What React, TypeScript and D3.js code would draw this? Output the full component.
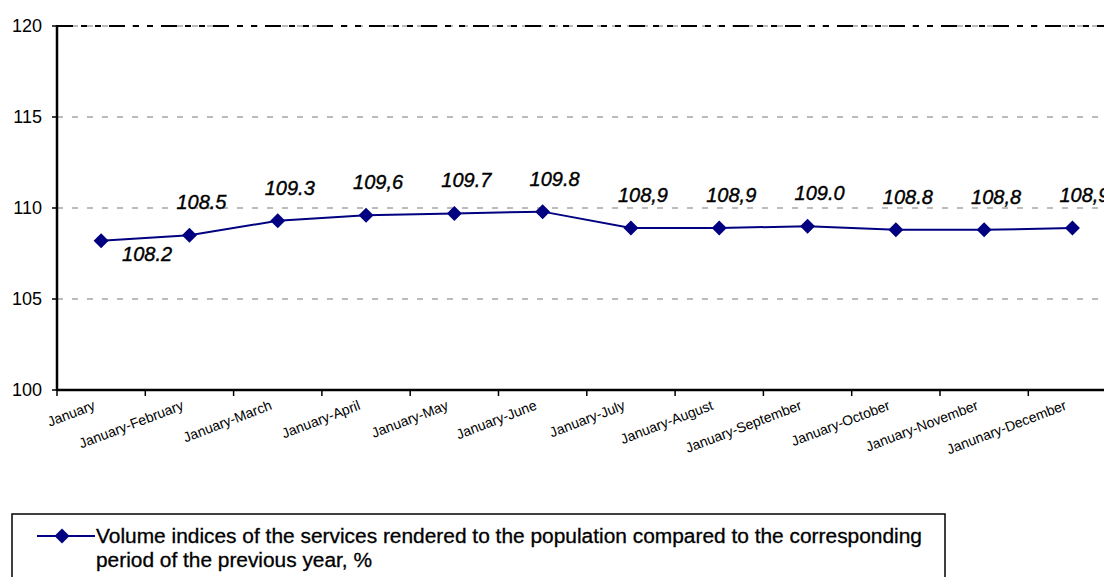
import React from 'react';
import * as d3 from 'd3';

const categories = [
  'January', 'January-February', 'January-March', 'January-April', 'January-May', 'January-June',
  'January-July', 'January-August', 'January-September', 'January-October', 'January-November', 'Janunary-December',
];
const values = [108.2, 108.5, 109.3, 109.6, 109.7, 109.8, 108.9, 108.9, 109.0, 108.8, 108.8, 108.9];
const valueLabels = ['108.2', '108.5', '109.3', '109,6', '109.7', '109.8', '108,9', '108,9', '109.0', '108.8', '108,8', '108,9'];
const yTicks = [100, 105, 110, 115, 120];
const legendLines = [
  'Volume indices of the services rendered to the population compared to the corresponding',
  'period of the previous year, %',
];

const W = 1104;
const H = 577;
const left = 57;
const top = 26;
const bottom = 390;
const step = 88.3;

const App: React.FC = () => {
  const x = d3.scaleBand<string>().domain(categories).range([left, left + step * categories.length]);
  const y = d3.scaleLinear().domain([100, 120]).range([bottom, top]);
  const cx = (c: string) => (x(c) ?? 0) + x.bandwidth() / 2;

  const line = d3.line<number>()
    .x((_, i) => cx(categories[i]))
    .y(d => y(d));

  // rotated square marker
  const diamond = 'M0,-7.5L7.5,0L0,7.5L-7.5,0Z';

  return (
    <svg width={W} height={H} style={{ position: 'fixed', left: 0, top: 0, fontFamily: 'Arial, "Liberation Sans", sans-serif' }}>
      <rect width={W} height={H} fill="#fff" />
      {/* gridlines */}
      {yTicks.filter(t => t > 100).map(t => (
        <line key={t} x1={left} x2={W} y1={y(t)} y2={y(t)} stroke="#bbb" strokeWidth={2} strokeDasharray="6 9" />
      ))}
      {/* top border dash-dot */}
      <line x1={left} x2={W} y1={top} y2={top} stroke="#000" strokeWidth={2} strokeDasharray="16 8 6 8 6 8" />
      {/* y axis */}
      <line x1={left} x2={left} y1={top - 1} y2={bottom + 1} stroke="#000" strokeWidth={2.5} />
      {yTicks.map(t => (
        <g key={t}>
          <line x1={left - 5} x2={left} y1={y(t)} y2={y(t)} stroke="#000" strokeWidth={1.5} />
          <text x={left - 15} y={y(t)} dy="0.35em" textAnchor="end" fontSize={18}>{t}</text>
        </g>
      ))}
      {/* x axis */}
      <line x1={left} x2={W} y1={bottom} y2={bottom} stroke="#000" strokeWidth={2.5} />
      {categories.map(c => (
        <line key={c} x1={x(c) ?? 0} x2={x(c) ?? 0} y1={bottom} y2={bottom + 6} stroke="#000" strokeWidth={1.5} />
      ))}
      {categories.map(c => (
        <text key={c} transform={`translate(${cx(c) - 5},${bottom + 19}) rotate(-21)`} textAnchor="end" fontSize={14}>{c}</text>
      ))}
      {/* series */}
      <path d={line(values) ?? ''} fill="none" stroke="#000080" strokeWidth={2} />
      {values.map((v, i) => (
        <path key={i} d={diamond} transform={`translate(${cx(categories[i])},${y(v)})`} fill="#000080" />
      ))}
      {values.map((v, i) => {
        const below = i === 0;
        return (
          <text key={i} x={cx(categories[i]) + (below ? 46 : 12)} y={y(v) + (below ? 20 : -26)}
            textAnchor="middle" fontSize={20} fontStyle="italic" stroke="#000" strokeWidth={0.4}>{valueLabels[i]}</text>
        );
      })}
      {/* legend */}
      <rect x={12} y={514} width={933} height={80} fill="#fff" stroke="#000" strokeWidth={1.5} />
      <line x1={37} x2={95} y1={536} y2={536} stroke="#000080" strokeWidth={2} />
      <path d={diamond} transform="translate(62,536)" fill="#000080" />
      {legendLines.map((t, i) => (
        <text key={i} x={96} y={543 + i * 24} fontSize={20} stroke="#000" strokeWidth={0.3}
          textLength={i === 0 ? 826 : 276} lengthAdjust="spacingAndGlyphs">{t}</text>
      ))}
    </svg>
  );
};

export default App;
